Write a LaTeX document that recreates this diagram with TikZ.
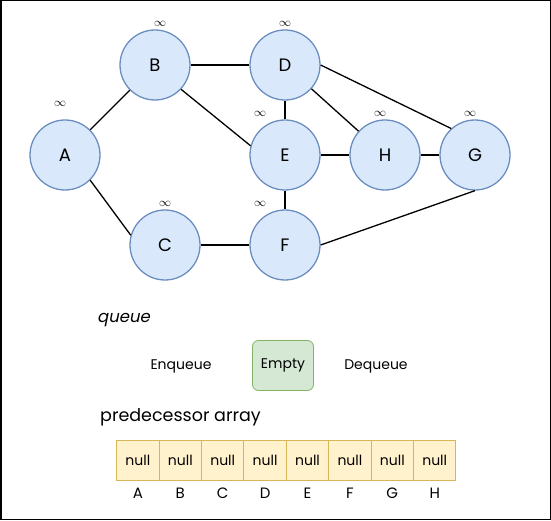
\documentclass[tikz,border=0pt]{standalone}
\usepackage{fontspec}
\setmainfont{Poppins}
\newfontfamily\qfont[FakeSlant=0.2]{Poppins}
\definecolor{vfill}{HTML}{DAE8FC}
\definecolor{vline}{HTML}{6C8EBF}
\definecolor{cfill}{HTML}{FFF2CC}
\definecolor{cline}{HTML}{D6B656}
\definecolor{gfill}{HTML}{D5E8D4}
\definecolor{gline}{HTML}{82B366}
\begin{document}
\begin{tikzpicture}[x=1pt,y=-1pt,
  vert/.style={circle,draw=vline,fill=vfill,line width=1.3pt,minimum size=70pt,inner sep=0pt,font=\fontsize{18}{20}\selectfont},
  inf/.style={font=\fontsize{12}{13}\selectfont,inner sep=0pt},
  edge/.style={line width=1.3pt,black},
  cell/.style={draw=cline,fill=cfill,line width=0.9pt,minimum width=42.4pt,minimum height=40.5pt,inner sep=0pt,font=\fontsize{14}{16}\selectfont},
  lab/.style={font=\fontsize{15}{17}\selectfont,inner sep=0pt},
  qtxt/.style={font=\fontsize{14}{16}\selectfont,inner sep=0pt}]
\useasboundingbox (0,0) rectangle (551,521);
\draw[line width=1.5pt] (0.75,0.75) rectangle (550.25,519.5);
% vertices
\node[vert] (A) at (65,155) {A};
\node[vert] (B) at (155,65) {B};
\node[vert] (D) at (285,65) {D};
\node[vert] (E) at (285,155) {E};
\node[vert] (H) at (385,155) {H};
\node[vert] (G) at (475,155) {G};
\node[vert] (C) at (165,245) {C};
\node[vert] (F) at (285,245) {F};
% distances
\node[inf] (iA) at (60,104) {$\infty$};
\node[inf] (iB) at (160,24) {$\infty$};
\node[inf] (iD) at (285,24) {$\infty$};
\node[inf] (iE) at (260,114) {$\infty$};
\node[inf] (iH) at (380,114) {$\infty$};
\node[inf] (iG) at (470,114) {$\infty$};
\node[inf] (iC) at (165,204) {$\infty$};
\node[inf] (iF) at (260,204) {$\infty$};
% edges
\draw[edge] (A) -- (B);
\draw[edge] (A.-45) -- (C.164);
\draw[edge] (B) -- (D);
\draw[edge] (B.-43) -- (E.165);
\draw[edge] (D) -- (E);
\draw[edge] (D) -- (H);
\draw[edge] (D.east) -- (G.132);
\draw[edge] (E) -- (H);
\draw[edge] (H) -- (G);
\draw[edge] (E) -- (F);
\draw[edge] (C) -- (F);
\draw[edge] (F.east) -- (G.south);
% queue
\node[anchor=west,inner sep=0pt,font=\qfont\fontsize{16.5}{18}\selectfont] (qt) at (97,320) {queue};
\node[qtxt] (enq) at (181,366) {Enqueue};
\node[draw=gline,fill=gfill,rounded corners=6pt,line width=0.8pt,minimum width=61pt,minimum height=50pt,inner sep=0pt,qtxt] (emp) at (283,365.5) {Empty};
\node[qtxt] (deq) at (376,366) {Dequeue};
% predecessor array
\node[anchor=west,inner sep=0pt,font=\fontsize{17.5}{20}\selectfont] (pt) at (100,417) {predecessor array};
\foreach \n [count=\i from 0] in {A,B,C,D,E,F,G,H}{
  \node[cell] (c\n) at ({116.7+21.2+42.4*\i},460.5) {null};
  \node[lab] (l\n) at ({116.7+21.2+42.4*\i},493.5) {\n};
}
\end{tikzpicture}
\end{document}
